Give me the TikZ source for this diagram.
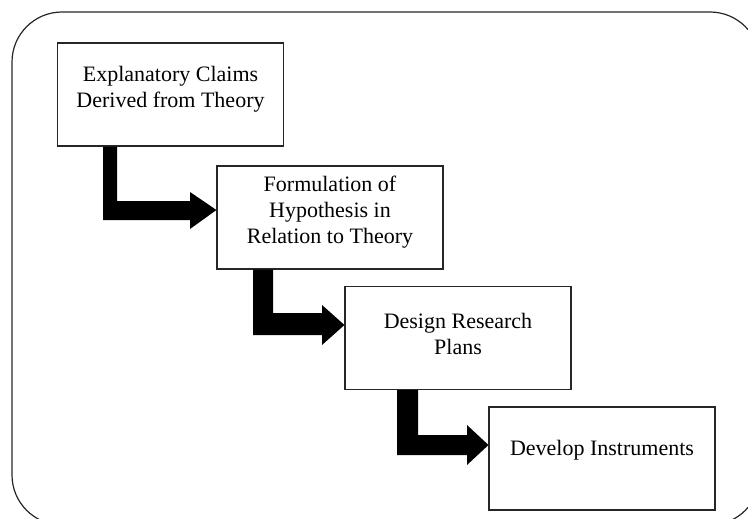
\documentclass[tikz,border=0pt]{standalone}
\usepackage{fontspec}
\setmainfont{Liberation Serif}
\usetikzlibrary{calc}
\begin{document}
\begin{tikzpicture}[x=1pt,y=-1pt,
  box/.style={draw=black!85,line width=1.1pt,minimum width=226pt,minimum height=103pt,inner sep=0pt},
  txt/.style={align=center,inner sep=0pt,font=\fontsize{22}{26}\selectfont},
  bigarrow/.style={fill=black}]
\useasboundingbox (0,0) rectangle (748,519);
\begin{scope}
\clip (0,0) rectangle (748,519);
\node[draw=black!85,line width=1.2pt,rounded corners=50pt,minimum width=748pt,minimum height=513pt,inner sep=0pt] (frame) at (386,268.5) {};
\end{scope}
\node[box] (b1) at (170.5,94.5) {};
\node[box] (b2) at (330,217.5) {};
\node[box] (b3) at (458,338) {};
\node[box] (b4) at (602,458.5) {};
\node[txt] (t1) at (170.5,89) {Explanatory Claims\\Derived from Theory};
\node[txt] (t2) at (330,212) {Formulation of\\Hypothesis in\\Relation to Theory};
\node[txt] (t3) at (458,334) {Design Research\\Plans};
\node[txt] (t4) at (602,450) {Develop Instruments};
% arrows
\fill[bigarrow] (103,0 |- b1.south) -- (117,0 |- b1.south) -- (117,201) -- (190,201) -- (190,192)
  -- (b2.west |- 0,210) -- (190,229) -- (190,220) -- (103,220) -- cycle;
\fill[bigarrow] (253,0 |- b2.south) -- (273,0 |- b2.south) -- (273,313) -- (322,313) -- (322,305)
  -- (b3.west |- 0,325) -- (322,345) -- (322,335) -- (253,335) -- cycle;
\fill[bigarrow] (397,0 |- b3.south) -- (418,0 |- b3.south) -- (418,435) -- (467,435) -- (467,425)
  -- (b4.west |- 0,445) -- (467,465) -- (467,455) -- (397,455) -- cycle;
\end{tikzpicture}
\end{document}
